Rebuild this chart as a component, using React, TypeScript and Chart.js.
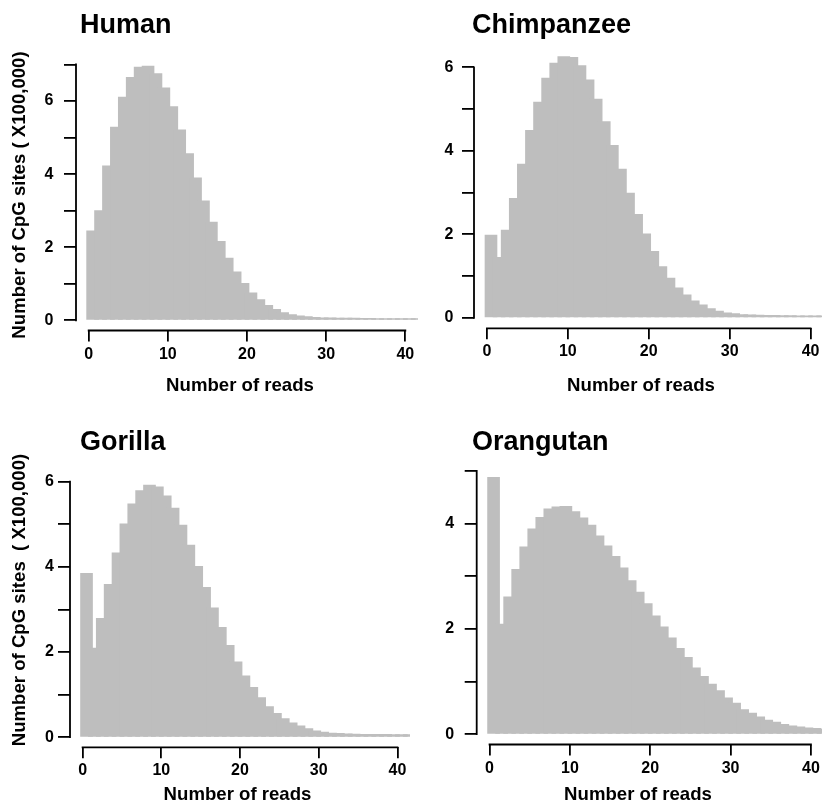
import React, { useEffect, useRef } from "react";
import { Chart, registerables } from "chart.js";

Chart.register(...registerables);

// ---- data ----
const readCounts = [
  0, 1, 2, 3, 4, 5, 6, 7, 8, 9, 10, 11, 12, 13, 14, 15, 16, 17, 18, 19, 20,
  21, 22, 23, 24, 25, 26, 27, 28, 29, 30, 31, 32, 33, 34, 35, 36, 37, 38, 39, 40, 41,
];

const humanSites = [
  2.45, 3.0, 4.23, 5.29, 6.11, 6.65, 6.93, 6.96, 6.75, 6.36, 5.85, 5.21, 4.56, 3.9,
  3.27, 2.69, 2.16, 1.7, 1.33, 1.01, 0.75, 0.57, 0.41, 0.3, 0.21, 0.16, 0.12, 0.1,
  0.08, 0.07, 0.065, 0.06, 0.06, 0.06, 0.055, 0.055, 0.05, 0.05, 0.05, 0.05, 0.05, 0.05,
];
const chimpanzeeSites = [
  1.98, 1.45, 2.1, 2.86, 3.68, 4.49, 5.17, 5.74, 6.1, 6.26, 6.24, 6.04, 5.7, 5.24,
  4.7, 4.13, 3.56, 2.99, 2.48, 2.01, 1.59, 1.23, 0.95, 0.72, 0.55, 0.41, 0.31, 0.22,
  0.16, 0.12, 0.1, 0.08, 0.07, 0.065, 0.06, 0.06, 0.055, 0.055, 0.05, 0.05, 0.05, 0.05,
];
const gorillaSites = [
  3.85, 2.09, 2.79, 3.59, 4.33, 5.01, 5.48, 5.79, 5.92, 5.88, 5.67, 5.38, 4.98, 4.51,
  4.01, 3.52, 3.04, 2.58, 2.16, 1.77, 1.44, 1.17, 0.93, 0.72, 0.56, 0.44, 0.34, 0.27,
  0.2, 0.15, 0.12, 0.1, 0.09, 0.08, 0.075, 0.07, 0.07, 0.065, 0.065, 0.06, 0.06, 0.06,
];
const orangutanSites = [
  4.88, 2.09, 2.61, 3.13, 3.56, 3.9, 4.12, 4.28, 4.32, 4.33, 4.23, 4.11, 3.97, 3.77,
  3.58, 3.38, 3.16, 2.92, 2.7, 2.48, 2.25, 2.04, 1.83, 1.63, 1.46, 1.26, 1.1, 0.95,
  0.83, 0.69, 0.59, 0.47, 0.4, 0.33, 0.27, 0.23, 0.19, 0.16, 0.14, 0.12, 0.11, 0.1,
];

const xTicks = [0, 10, 20, 30, 40];
const humanYTicks = [0, 1, 2, 3, 4, 5, 6, 7];
const humanYLabels = ["0", "", "2", "", "4", "", "6", ""];
const chimpanzeeYTicks = [0, 1, 2, 3, 4, 5, 6];
const chimpanzeeYLabels = ["0", "", "2", "", "4", "", "6"];
const gorillaYTicks = [0, 1, 2, 3, 4, 5, 6];
const gorillaYLabels = ["0", "", "2", "", "4", "", "6"];
const orangutanYTicks = [0, 1, 2, 3, 4, 5];
const orangutanYLabels = ["0", "", "2", "", "4", ""];

const xAxisTitle = "Number of reads";
const yAxisTitleTop = "Number of CpG sites ( X100,000)";
const yAxisTitleBottom = "Number of CpG sites  ( X100,000)";

// ---- layout / style ----
const FONT = '"Liberation Sans", Arial, Helvetica, sans-serif';
const CANVAS_W = 840;
const CANVAS_H = 806;
const Y_AXIS_W = 60;
const X_AXIS_H = 60;
const BAR_GRAY = "#bebebe";

type PanelCfg = {
  title: string;
  values: number[];
  yTicks: number[];
  yLabels: string[];
  area: { l: number; r: number; t: number; b: number };
  yPad: number;
  xPad: number;
  titlePos: { x: number; y: number };
  xTitlePos: { x: number; y: number };
  yTitle?: { text: string; x: number; y: number };
};

const panels: PanelCfg[] = [
  {
    title: "Human",
    values: humanSites,
    yTicks: humanYTicks,
    yLabels: humanYLabels,
    area: { l: 76, r: 418, t: 55.8, b: 330.5 },
    yPad: 10.5,
    xPad: 3,
    titlePos: { x: 80, y: 32.5 },
    xTitlePos: { x: 240, y: 390.7 },
    yTitle: { text: yAxisTitleTop, x: 25, y: 195 },
  },
  {
    title: "Chimpanzee",
    values: chimpanzeeSites,
    yTicks: chimpanzeeYTicks,
    yLabels: chimpanzeeYLabels,
    area: { l: 474, r: 823.5, t: 46, b: 328.3 },
    yPad: 8.5,
    xPad: 3,
    titlePos: { x: 472, y: 32.5 },
    xTitlePos: { x: 641, y: 390.7 },
  },
  {
    title: "Gorilla",
    values: gorillaSites,
    yTicks: gorillaYTicks,
    yLabels: gorillaYLabels,
    area: { l: 70, r: 410, t: 475, b: 747.3 },
    yPad: 4,
    xPad: 3,
    titlePos: { x: 80, y: 450.3 },
    xTitlePos: { x: 237.5, y: 800 },
    yTitle: { text: yAxisTitleBottom, x: 25, y: 600 },
  },
  {
    title: "Orangutan",
    values: orangutanSites,
    yTicks: orangutanYTicks,
    yLabels: orangutanYLabels,
    area: { l: 476.7, r: 823.8, t: 467, b: 744.5 },
    yPad: 10.5,
    xPad: 3,
    titlePos: { x: 472, y: 450.3 },
    xTitlePos: { x: 638, y: 800 },
  },
];

function Panel({ cfg }: { cfg: PanelCfg }) {
  const ref = useRef<HTMLCanvasElement | null>(null);

  useEffect(() => {
    if (!ref.current) return;
    const M = Math.max(...cfg.values);
    const a = cfg.area;

    const decor = {
      id: "decor",
      afterDraw(chart: any) {
        const { ctx, chartArea } = chart;
        const xs = chart.scales.x;
        const ys = chart.scales.y;
        ctx.save();
        ctx.strokeStyle = "#000";
        ctx.lineWidth = 1.8;
        ctx.lineCap = "square";
        ctx.beginPath();
        ctx.moveTo(xs.getPixelForValue(xTicks[0]), chartArea.bottom);
        ctx.lineTo(xs.getPixelForValue(xTicks[xTicks.length - 1]), chartArea.bottom);
        ctx.moveTo(chartArea.left, ys.getPixelForValue(cfg.yTicks[0]));
        ctx.lineTo(chartArea.left, ys.getPixelForValue(cfg.yTicks[cfg.yTicks.length - 1]));
        ctx.stroke();

        ctx.fillStyle = "#000";
        ctx.textBaseline = "alphabetic";
        ctx.font = `bold 27px ${FONT}`;
        ctx.textAlign = "left";
        ctx.fillText(cfg.title, cfg.titlePos.x, cfg.titlePos.y);

        ctx.font = `bold 18.6px ${FONT}`;
        ctx.textAlign = "center";
        ctx.fillText(xAxisTitle, cfg.xTitlePos.x, cfg.xTitlePos.y);

        if (cfg.yTitle) {
          ctx.save();
          ctx.translate(cfg.yTitle.x, cfg.yTitle.y);
          ctx.rotate(-Math.PI / 2);
          ctx.textAlign = "center";
          ctx.fillText(cfg.yTitle.text, 0, 0);
          ctx.restore();
        }
        ctx.restore();
      },
    };

    const chart = new Chart(ref.current, {
      type: "bar",
      data: {
        datasets: [
          {
            data: cfg.values.map((v, i) => ({ x: readCounts[i] + 0.5, y: v })),
            backgroundColor: BAR_GRAY,
            borderWidth: 0,
            barThickness: 12,
            clip: 0,
          } as any,
        ],
      },
      options: {
        responsive: false,
        animation: false,
        devicePixelRatio: 1,
        events: [],
        layout: {
          padding: {
            left: a.l - Y_AXIS_W,
            right: CANVAS_W - a.r,
            top: a.t,
            bottom: CANVAS_H - a.b - X_AXIS_H,
          },
        },
        plugins: {
          legend: { display: false },
          tooltip: { enabled: false },
          title: { display: false },
        },
        scales: {
          x: {
            type: "linear",
            min: -1.6,
            max: 41.6,
            offset: false,
            afterBuildTicks: (axis: any) => {
              axis.ticks = xTicks.map((v) => ({ value: v }));
            },
            afterFit: (axis: any) => {
              axis.height = X_AXIS_H;
            },
            grid: {
              display: true,
              offset: false,
              drawOnChartArea: false,
              drawTicks: true,
              tickLength: 11,
              color: "#000",
              lineWidth: 1.8,
            },
            border: { display: false },
            ticks: {
              autoSkip: false,
              maxRotation: 0,
              padding: cfg.xPad,
              color: "#000",
              font: { family: FONT, size: 16, weight: "bold" },
              callback: (v: any) => String(v),
            },
          },
          y: {
            type: "linear",
            min: -0.04 * M,
            max: 1.04 * M,
            afterBuildTicks: (axis: any) => {
              axis.ticks = cfg.yTicks.map((v) => ({ value: v }));
            },
            afterFit: (axis: any) => {
              axis.width = Y_AXIS_W;
            },
            grid: {
              display: true,
              drawOnChartArea: false,
              drawTicks: true,
              tickLength: 12,
              color: "#000",
              lineWidth: 1.8,
            },
            border: { display: false },
            ticks: {
              autoSkip: false,
              padding: cfg.yPad,
              color: "#000",
              font: { family: FONT, size: 16, weight: "bold" },
              callback: (_v: any, i: number) => cfg.yLabels[i],
            },
          },
        },
      } as any,
      plugins: [decor],
    });
    return () => chart.destroy();
  }, [cfg]);

  return (
    <canvas
      ref={ref}
      width={CANVAS_W}
      height={CANVAS_H}
      style={{ position: "absolute", left: 0, top: 0, width: CANVAS_W, height: CANVAS_H }}
    />
  );
}

export default function App() {
  return (
    <div
      style={{
        position: "absolute",
        left: 0,
        top: 0,
        width: 822,
        height: 806,
        overflow: "hidden",
        background: "#fff",
      }}
    >
      {panels.map((p) => (
        <Panel key={p.title} cfg={p} />
      ))}
    </div>
  );
}
